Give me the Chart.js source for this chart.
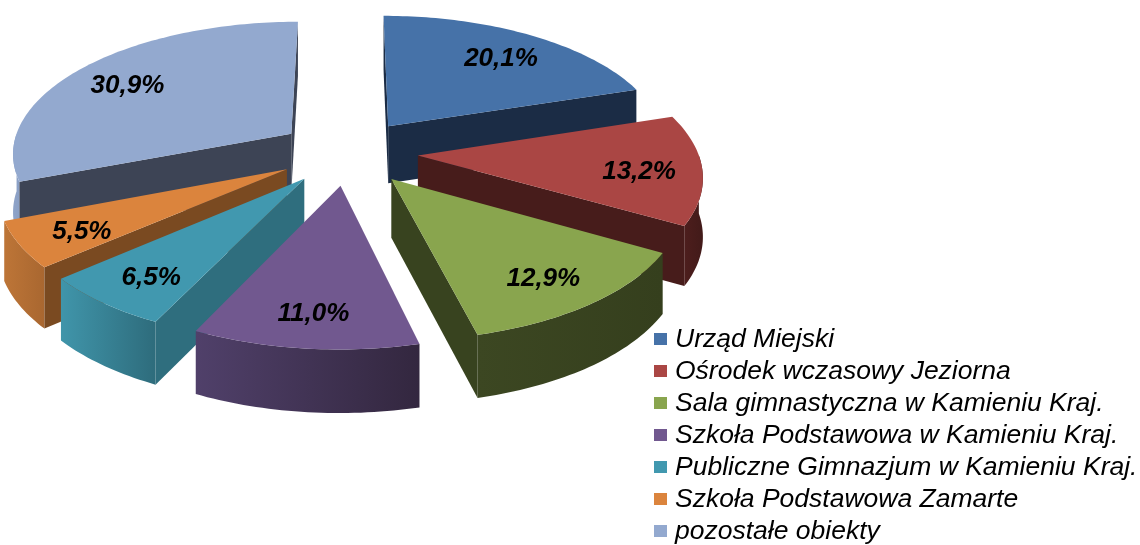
<!DOCTYPE html>
<html>
<head>
<meta charset="utf-8">
<title>Zużycie energii – udział obiektów</title>
<script src="https://cdn.jsdelivr.net/npm/chart.js@4.4.1/dist/chart.umd.min.js"></script>
<style>
	html, body { margin: 0; padding: 0; background: #fff; }
	#wrap { position: relative; width: 1140px; height: 545px; overflow: hidden; }
	#wrap canvas { position: absolute; left: 0; top: 0; }
	#legend {
		position: absolute; left: 654px; top: 322px;
		margin: 0; padding: 0; list-style: none;
		font: italic 26.5px "Liberation Sans", Arial, sans-serif; color: #000;
	}
	#legend li { position: relative; height: 32px; line-height: 32px; padding-left: 21px; white-space: nowrap; }
	#legend .box { position: absolute; left: 0; top: 11px; width: 13px; height: 12px; }
</style>
</head>
<body>
<div id="wrap">
	<canvas id="chart"></canvas>
	<ul id="legend"></ul>
</div>
<script>
var labels = [
	"Urząd Miejski",
	"Ośrodek wczasowy Jeziorna",
	"Sala gimnastyczna w Kamieniu Kraj.",
	"Szkoła Podstawowa w Kamieniu Kraj.",
	"Publiczne Gimnazjum w Kamieniu Kraj.",
	"Szkoła Podstawowa Zamarte",
	"pozostałe obiekty"
];
var shares = [20.1, 13.2, 12.9, 11.0, 6.5, 5.5, 30.9];

// face colours: top, radial cut faces, outer rim (left -> right)
var topColors = ["#4672A8", "#AA4644", "#89A54E", "#71588F", "#4198AF", "#DB843D", "#93A9CF"];
var cutColors = ["#1B2C45", "#471C1B", "#38431F", "#3B2E4B", "#2F6E7E", "#7A4A21", "#3D4455"];
var rimLight = ["#2A4266", "#4D1E1D", "#3C4722", "#50406A", "#4095AA", "#BD7537", "#8FA4C9"];
var rimDark = ["#1B2C45", "#421A19", "#353F1D", "#33273F", "#2E6C7C", "#A96730", "#8A9FC4"];

/**
 * Tilted view of the pie plane.
 * u, w are in radius units (w grows toward the viewer), drop moves to the bottom face.
 */
var EXPLODE = 0.25;
var CX = 348, CY = 152, SCALE = 280, TILT = 0.47, DIST = 7.44, THICK = 58, CAM = 5.8;

function project(u, w, drop) {
	var g = DIST / (DIST - w);
	return [CX + SCALE * u * g, CY + SCALE * TILT * w * g + (drop ? THICK * Math.sqrt(g) : 0)];
}

function rimPoints(tip, a0, a1, drop) {
	var n = Math.max(2, Math.ceil(Math.abs(a1 - a0) / 0.02));
	var pts = [];
	for (var i = 0; i <= n; i++) {
		var a = a0 + (a1 - a0) * i / n;
		pts.push(project(tip[0] + Math.cos(a), tip[1] + Math.sin(a), drop));
	}
	return pts;
}

function fillPoly(ctx, pts, style) {
	ctx.beginPath();
	pts.forEach(function (p, i) {
		if (i) ctx.lineTo(p[0], p[1]); else ctx.moveTo(p[0], p[1]);
	});
	ctx.closePath();
	ctx.fillStyle = style;
	ctx.fill();
}

// radial side face along angle a; sign +1 for the end edge, -1 for the start edge
function drawCut(ctx, tip, a, sign, color) {
	var dir = [Math.cos(a), Math.sin(a)];
	var normal = [-sign * dir[1], sign * dir[0]];
	var mid = [tip[0] + dir[0] / 2, tip[1] + dir[1] / 2];
	var facing = -mid[0] * normal[0] + (CAM - mid[1]) * normal[1];
	if (facing <= 0) return;
	var out = [tip[0] + dir[0], tip[1] + dir[1]];
	fillPoly(ctx, [
		project(tip[0], tip[1], false),
		project(out[0], out[1], false),
		project(out[0], out[1], true),
		project(tip[0], tip[1], true)
	], color);
}

var pie3d = {
	id: "pie3d",
	beforeDatasetsDraw: function (chart) {
		var ctx = chart.ctx;
		var meta = chart.getDatasetMeta(0);
		var values = chart.data.datasets[0].data;

		var slices = meta.data.map(function (arc, i) {
			var p = arc.getProps(["startAngle", "endAngle"], true);
			var mid = (p.startAngle + p.endAngle) / 2;
			return {
				i: i,
				start: p.startAngle,
				end: p.endAngle,
				mid: mid,
				tip: [EXPLODE * Math.cos(mid), EXPLODE * Math.sin(mid)]
			};
		});

		// back slices first
		var order = slices.slice().sort(function (a, b) { return a.tip[1] - b.tip[1]; });

		ctx.save();
		order.forEach(function (s) {
			var i = s.i;

			// outer rim, only the part turned toward the viewer
			var a0 = Math.max(s.start, 0);
			var a1 = Math.min(s.end, Math.PI);
			if (a1 > a0) {
				var rim = rimPoints(s.tip, a0, a1, false).concat(rimPoints(s.tip, a1, a0, true));
				var xs = rim.map(function (p) { return p[0]; });
				var grad = ctx.createLinearGradient(Math.min.apply(null, xs), 0, Math.max.apply(null, xs), 0);
				grad.addColorStop(0, rimLight[i]);
				grad.addColorStop(1, rimDark[i]);
				fillPoly(ctx, rim, grad);
			}

			drawCut(ctx, s.tip, s.start, -1, cutColors[i]);
			drawCut(ctx, s.tip, s.end, 1, cutColors[i]);

			// top face
			var top = [project(s.tip[0], s.tip[1], false)].concat(rimPoints(s.tip, s.start, s.end, false));
			fillPoly(ctx, top, meta.data[i].options.backgroundColor);
		});

		// value labels on the top faces
		ctx.fillStyle = "#000";
		ctx.font = "italic bold 26px 'Liberation Sans', Arial, sans-serif";
		ctx.textAlign = "center";
		ctx.textBaseline = "middle";
		slices.forEach(function (s) {
			var r = EXPLODE + 0.78;
			var p = project(r * Math.cos(s.mid), r * Math.sin(s.mid), false);
			var text = values[s.i].toFixed(1).replace(".", ",") + "%";
			ctx.fillText(text, p[0], p[1] + 5);
		});
		ctx.restore();
		return false;
	}
};

var htmlLegend = {
	id: "htmlLegend",
	afterUpdate: function (chart) {
		var list = document.getElementById("legend");
		list.innerHTML = "";
		var items = chart.options.plugins.legend.labels.generateLabels(chart);
		items.forEach(function (item) {
			var li = document.createElement("li");
			var box = document.createElement("span");
			box.className = "box";
			box.style.background = item.fillStyle;
			li.appendChild(box);
			li.appendChild(document.createTextNode(item.text));
			list.appendChild(li);
		});
	}
};

var chart = new Chart(document.getElementById("chart"), {
	type: "pie",
	data: {
		labels: labels,
		datasets: [{
			data: shares,
			backgroundColor: topColors,
			borderWidth: 0
		}]
	},
	options: {
		responsive: true,
		maintainAspectRatio: false,
		animation: false,
		plugins: {
			legend: { display: false },
			tooltip: { enabled: false }
		}
	},
	plugins: [pie3d, htmlLegend]
});
</script>
</body>
</html>
